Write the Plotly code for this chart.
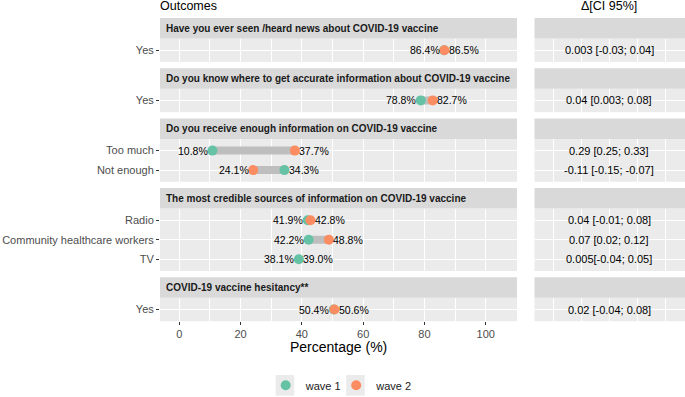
import plotly.graph_objects as go

# ---------------- data ----------------
sections = [
    "Have you ever seen /heard news about COVID-19 vaccine",
    "Do you know where to get accurate information about COVID-19 vaccine",
    "Do you receive enough information on COVID-19 vaccine",
    "The most credible sources of information on COVID-19 vaccine",
    "COVID-19 vaccine hesitancy**",
]
row_section = [0, 1, 2, 2, 3, 3, 3, 4]
items = ["Yes", "Yes", "Too much", "Not enough", "Radio",
         "Community healthcare workers", "TV", "Yes"]
wave1 = [86.4, 78.8, 10.8, 34.3, 41.9, 42.2, 39.0, 50.4]
wave2 = [86.5, 82.7, 37.7, 24.1, 42.8, 48.8, None, 50.6]  # TV wave-2 dot not visible
left_labels = ["86.4%", "78.8%", "10.8%", "24.1%", "41.9%", "42.2%", "38.1%", "50.4%"]
right_labels = ["86.5%", "82.7%", "37.7%", "34.3%", "42.8%", "48.8%", "39.0%", "50.6%"]
delta_ci = ["0.003 [-0.03; 0.04]", "0.04 [0.003; 0.08]", "0.29 [0.25; 0.33]",
            "-0.11 [-0.15; -0.07]", "0.04 [-0.01; 0.08]", "0.07 [0.02; 0.12]",
            "0.005[-0.04; 0.05]", "0.02 [-0.04; 0.08]"]
x_ticks = [0, 20, 40, 60, 80, 100]
x_minor = [10, 30, 50, 70, 90, 110]

# ---------------- style / layout ----------------
W, H = 685, 397
C1, C2 = "#66C2A5", "#FC8D62"
PANEL_BG, STRIP_BG = "#EBEBEB", "#D9D9D9"
FONT = "Liberation Sans, Arial, sans-serif"

def fx(p):
    return p / W

def fy(p):
    return 1 - p / H

LEFT = (160, 517)
RIGHT = (534.5, 685)
TOP = 18.0
STRIP_H = 20.5
UNIT = 19.5
GAP = 6.3
LEG_X = (285.7, 356.2)   # legend symbol centres (px)
LEG_Y = 385.3

fig = go.Figure()
layout = dict(
    width=W, height=H,
    margin=dict(l=0, r=0, t=0, b=0, autoexpand=False),
    paper_bgcolor="white", plot_bgcolor=PANEL_BG,
    font=dict(family=FONT, size=10, color="#1A1A1A"),
    showlegend=True,
)
shapes, annots = [], []

nsec = len(sections)
y_cur = TOP
for k in range(nsec):
    rows = [i for i, s in enumerate(row_section) if s == k]
    n = len(rows)
    strip_top = y_cur
    p_top = strip_top + STRIP_H
    p_bot = p_top + UNIT * (n - 1 + 1.2)
    y_cur = p_bot + GAP
    yl, yr = f"y{k+1}", f"y{k+1+nsec}"
    common = dict(domain=[fy(p_bot), fy(p_top)], range=[n - 1 + 0.6, -0.6],
                  tickvals=list(range(n)), showgrid=True, gridcolor="white",
                  gridwidth=1.4, zeroline=False, fixedrange=True)
    layout[f"yaxis{k+1}"] = dict(common, anchor="x", ticktext=[items[i] for i in rows],
                                 ticks="outside", ticklen=3, tickcolor="#333333",
                                 tickfont=dict(size=11, color="#4D4D4D"))
    layout[f"yaxis{k+1+nsec}"] = dict(common, anchor="x2", showticklabels=False, ticks="")
    # strips
    for (a, b) in (LEFT, RIGHT):
        shapes.append(dict(type="rect", xref="paper", yref="paper", x0=fx(a), x1=fx(b),
                           y0=fy(p_top), y1=fy(strip_top), fillcolor=STRIP_BG,
                           line=dict(width=0), layer="below"))
    annots.append(dict(xref="paper", yref="paper", x=fx(LEFT[0] + 4),
                       y=fy(strip_top + STRIP_H / 2), text=f"<b>{sections[k]}</b>",
                       xanchor="left", yanchor="middle", showarrow=False,
                       font=dict(size=10, color="#1A1A1A")))
    for j, i in enumerate(rows):
        pts = [v for v in (wave1[i], wave2[i]) if v is not None]
        if len(pts) == 2:
            fig.add_trace(go.Scatter(x=pts, y=[j, j], mode="lines",
                                     line=dict(color="#BEBEBE", width=8),
                                     xaxis="x", yaxis=yl, showlegend=False,
                                     hoverinfo="skip"))
        annots.append(dict(xref="x", yref=yl, x=min(pts), y=j, text=left_labels[i],
                           xanchor="right", yanchor="middle", xshift=-2.5,
                           showarrow=False, font=dict(size=10.5, color="#000000")))
        annots.append(dict(xref="x", yref=yl, x=max(pts), y=j, text=right_labels[i],
                           xanchor="left", yanchor="middle", xshift=2.5,
                           showarrow=False, font=dict(size=10.5, color="#000000")))
        annots.append(dict(xref="x2", yref=yr, x=0, y=j, text=delta_ci[i],
                           xanchor="center", yanchor="middle", showarrow=False,
                           font=dict(size=11, color="#000000")))
    # points
    for vals, col, name, leg in ((wave1, C1, "wave 1", "legend"),
                                 (wave2, C2, "wave 2", "legend2")):
        xs = [vals[i] for i in rows]
        fig.add_trace(go.Scatter(x=xs, y=list(range(n)), mode="markers",
                                 marker=dict(color=col, size=10, line=dict(width=0)),
                                 name=name, legendgroup=name, showlegend=(k == 0),
                                 legend=leg, xaxis="x", yaxis=yl))
    # invisible trace to activate right subplot
    fig.add_trace(go.Scatter(x=[0], y=[0], mode="markers", marker=dict(opacity=0),
                             xaxis="x2", yaxis=yr, showlegend=False, hoverinfo="skip"))

layout["xaxis"] = dict(domain=[fx(LEFT[0]), fx(LEFT[1])], range=[-6.3, 110.2],
                       anchor=f"y{nsec}", tickvals=x_ticks, ticks="outside", ticklen=3,
                       tickcolor="#333333", tickfont=dict(size=11, color="#4D4D4D"),
                       showgrid=True, gridcolor="white", gridwidth=1.4, zeroline=False,
                       minor=dict(tickvals=x_minor, showgrid=True, gridcolor="white",
                                  gridwidth=0.6, ticks=""), fixedrange=True)
layout["xaxis2"] = dict(domain=[fx(RIGHT[0]), fx(RIGHT[1])], range=[-1.336, 1.358],
                        anchor=f"y{2*nsec}", tickvals=[-1, 0, 1], showticklabels=False,
                        ticks="", showgrid=True, gridcolor="white", gridwidth=1.4,
                        zeroline=False,
                        minor=dict(tickvals=[-0.5, 0.5], showgrid=True, gridcolor="white",
                                   gridwidth=0.6, ticks=""), fixedrange=True)

annots.append(dict(xref="paper", yref="paper", x=fx(LEFT[0] - 2), y=fy(6.5), text="Outcomes",
                   xanchor="left", yanchor="middle", showarrow=False,
                   font=dict(size=12.5, color="#000000")))
annots.append(dict(xref="paper", yref="paper", x=fx(608.5), y=fy(6.5), text="Δ[CI 95%]",
                   xanchor="center", yanchor="middle", showarrow=False,
                   font=dict(size=12.5, color="#000000")))
annots.append(dict(xref="paper", yref="paper", x=fx((LEFT[0] + LEFT[1]) / 2), y=fy(347),
                   text="Percentage (%)", xanchor="center", yanchor="middle",
                   showarrow=False, font=dict(size=14, color="#000000")))

# legend key backgrounds
for cx in LEG_X:
    shapes.append(dict(type="rect", xref="paper", yref="paper", x0=fx(cx - 10),
                       x1=fx(cx + 8.5), y0=fy(395.7), y1=fy(375),
                       fillcolor="#EBEBEB", line=dict(width=0), layer="below"))

layout["shapes"] = shapes
layout["annotations"] = annots
for key, cx in (("legend", LEG_X[0]), ("legend2", LEG_X[1])):
    layout[key] = dict(orientation="h", x=fx(cx - 20), y=fy(LEG_Y), xanchor="left",
                       yanchor="middle", font=dict(size=11, color="#1A1A1A"),
                       bgcolor="rgba(0,0,0,0)", borderwidth=0, itemclick=False,
                       itemdoubleclick=False)
fig.update_layout(**layout)
fig.write_html("out.html", config={"displayModeBar": False},
               post_script="document.body.style.margin='0';document.body.style.overflow='hidden';")
